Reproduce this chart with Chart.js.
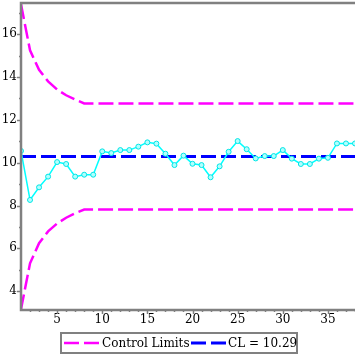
<!DOCTYPE html>
<html>
<head>
<meta charset="utf-8">
<script src="https://cdn.jsdelivr.net/npm/chart.js@4"></script>
<style>
  html, body { margin: 0; padding: 0; background: #fff; }
  #wrap { width: 355px; height: 355px; }
</style>
</head>
<body>
<div id="wrap"><canvas id="chart" width="355" height="355"></canvas></div>
<script>
// ---------- DATOS ----------
const samples = [1, 2, 3, 4, 5, 6, 7, 8, 9, 10, 11, 12, 13, 14, 15, 16, 17, 18, 19, 20,
  21, 22, 23, 24, 25, 26, 27, 28, 29, 30, 31, 32, 33, 34, 35, 36, 37, 38];

const measurements = [10.55, 8.26, 8.85, 9.35, 10.03, 9.94, 9.35, 9.44, 9.44, 10.53,
  10.45, 10.59, 10.59, 10.75, 10.95, 10.89, 10.42, 9.89, 10.33, 9.95,
  9.89, 9.32, 9.83, 10.51, 11.01, 10.63, 10.20, 10.31, 10.31, 10.59,
  10.19, 9.94, 9.94, 10.19, 10.23, 10.90, 10.90, 10.90];

const upperLimit = [17.40, 15.25, 14.34, 13.80, 13.42, 13.15, 12.95, 12.77, 12.77, 12.77,
  12.77, 12.77, 12.77, 12.77, 12.77, 12.77, 12.77, 12.77, 12.77, 12.77,
  12.77, 12.77, 12.77, 12.77, 12.77, 12.77, 12.77, 12.77, 12.77, 12.77,
  12.77, 12.77, 12.77, 12.77, 12.77, 12.77, 12.77, 12.77];

const lowerLimit = [3.16, 5.30, 6.24, 6.79, 7.16, 7.43, 7.64, 7.81, 7.81, 7.81,
  7.81, 7.81, 7.81, 7.81, 7.81, 7.81, 7.81, 7.81, 7.81, 7.81,
  7.81, 7.81, 7.81, 7.81, 7.81, 7.81, 7.81, 7.81, 7.81, 7.81,
  7.81, 7.81, 7.81, 7.81, 7.81, 7.81, 7.81, 7.81];

const centerLine = [10.29, 10.29, 10.29, 10.29, 10.29, 10.29, 10.29, 10.29, 10.29, 10.29,
  10.29, 10.29, 10.29, 10.29, 10.29, 10.29, 10.29, 10.29, 10.29, 10.29,
  10.29, 10.29, 10.29, 10.29, 10.29, 10.29, 10.29, 10.29, 10.29, 10.29,
  10.29, 10.29, 10.29, 10.29, 10.29, 10.29, 10.29, 10.29];

const xRange = [1, 38];
const yRange = [3.12, 17.46];
const limitsLabel = 'Control Limits';
const centerLabel = 'CL = 10.29';

const FONT = 'DejaVu Serif';
const AXIS_GRAY = '#808080';

function toPoints(arr) {
  return samples.map((s, i) => ({ x: s, y: arr[i] }));
}

// quita el relleno automatico que Chart.js deja para las etiquetas extremas
function noPadding(scale) {
  scale.paddingTop = 0;
  scale.paddingBottom = 0;
  scale.paddingLeft = 0;
  scale.paddingRight = 0;
}

// ---------- EJES Y LEYENDA A MANO ----------
const framePlugin = {
  id: 'frame',
  afterDraw(chart) {
    const ctx = chart.ctx;
    const area = chart.chartArea;
    const xs = chart.scales.x;
    const ys = chart.scales.y;
    ctx.save();
    ctx.strokeStyle = AXIS_GRAY;

    // marcas del eje Y
    ctx.lineWidth = 1.5;
    for (let v = 4; v <= 17; v++) {
      const y = Math.round(ys.getPixelForValue(v)) + 0.5;
      const len = v % 2 === 0 ? 4 : 2;
      ctx.beginPath();
      ctx.moveTo(area.left - len, y);
      ctx.lineTo(area.left, y);
      ctx.stroke();
    }
    // marcas del eje X
    for (let v = 2; v <= 38; v++) {
      const x = Math.round(xs.getPixelForValue(v)) + 0.5;
      const len = v % 5 === 0 ? 4 : 2;
      ctx.beginPath();
      ctx.moveTo(x, area.bottom);
      ctx.lineTo(x, area.bottom + len);
      ctx.stroke();
    }

    // marco
    ctx.lineWidth = 2.5;
    ctx.beginPath();
    ctx.moveTo(area.right, area.top);
    ctx.lineTo(area.left, area.top);
    ctx.lineTo(area.left, area.bottom);
    ctx.lineTo(area.right, area.bottom);
    ctx.stroke();

    // leyenda
    const bx = 61, by = 333, bw = 236, bh = 20;
    ctx.lineWidth = 2;
    ctx.strokeRect(bx, by, bw, bh);
    const ly = by + bh / 2;

    ctx.setLineDash([15, 5]);
    ctx.lineWidth = 2.5;
    ctx.strokeStyle = '#ff00ff';
    ctx.beginPath();
    ctx.moveTo(64, ly);
    ctx.lineTo(100, ly);
    ctx.stroke();

    ctx.lineWidth = 3;
    ctx.strokeStyle = '#0000ff';
    ctx.beginPath();
    ctx.moveTo(191, ly);
    ctx.lineTo(227, ly);
    ctx.stroke();
    ctx.setLineDash([]);

    ctx.fillStyle = '#000';
    ctx.font = '12px "' + FONT + '"';
    ctx.textBaseline = 'middle';
    ctx.textAlign = 'left';
    ctx.fillText(limitsLabel, 102, ly + 0.5);
    ctx.fillText(centerLabel, 228, ly + 0.5);
    ctx.restore();
  }
};

const ctx = document.getElementById('chart').getContext('2d');
new Chart(ctx, {
  type: 'line',
  data: {
    datasets: [
      {
        label: 'data',
        data: toPoints(measurements),
        borderColor: '#00ffff',
        borderWidth: 1.5,
        pointStyle: 'circle',
        pointRadius: 2.5,
        pointBorderWidth: 1,
        pointBorderColor: '#00e5e5',
        pointBackgroundColor: '#b0ffff',
        tension: 0,
        order: 0
      },
      {
        label: centerLabel,
        data: toPoints(centerLine),
        borderColor: '#0000ff',
        borderWidth: 3,
        borderDash: [15, 5],
        pointRadius: 0,
        order: 1
      },
      {
        label: limitsLabel,
        data: toPoints(upperLimit),
        borderColor: '#ff00ff',
        borderWidth: 2.5,
        borderDash: [15, 5],
        pointRadius: 0,
        order: 2
      },
      {
        label: limitsLabel,
        data: toPoints(lowerLimit),
        borderColor: '#ff00ff',
        borderWidth: 2.5,
        borderDash: [15, 5],
        pointRadius: 0,
        order: 2
      }
    ]
  },
  options: {
    responsive: false,
    animation: false,
    layout: { autoPadding: false, padding: { top: 3, right: 0, left: 0, bottom: 25 } },
    plugins: {
      legend: { display: false },
      tooltip: { enabled: false }
    },
    scales: {
      x: {
        type: 'linear',
        min: xRange[0],
        max: xRange[1],
        afterFit(scale) { scale.height = 20; noPadding(scale); },
        grid: { display: false, drawTicks: false },
        border: { display: false },
        ticks: {
          stepSize: 5,
          autoSkip: false,
          maxRotation: 0,
          padding: 3,
          color: '#000',
          font: { family: FONT, size: 12 },
          callback: v => (v % 5 === 0 ? v : null)
        }
      },
      y: {
        min: yRange[0],
        max: yRange[1],
        afterFit(scale) { scale.width = 21; noPadding(scale); },
        grid: { display: false, drawTicks: false },
        border: { display: false },
        ticks: {
          stepSize: 2,
          autoSkip: false,
          padding: 4,
          color: '#000',
          font: { family: FONT, size: 12 },
          callback: v => (Number.isInteger(v) && v % 2 === 0 ? v : null)
        }
      }
    }
  },
  plugins: [framePlugin]
});
</script>
</body>
</html>
